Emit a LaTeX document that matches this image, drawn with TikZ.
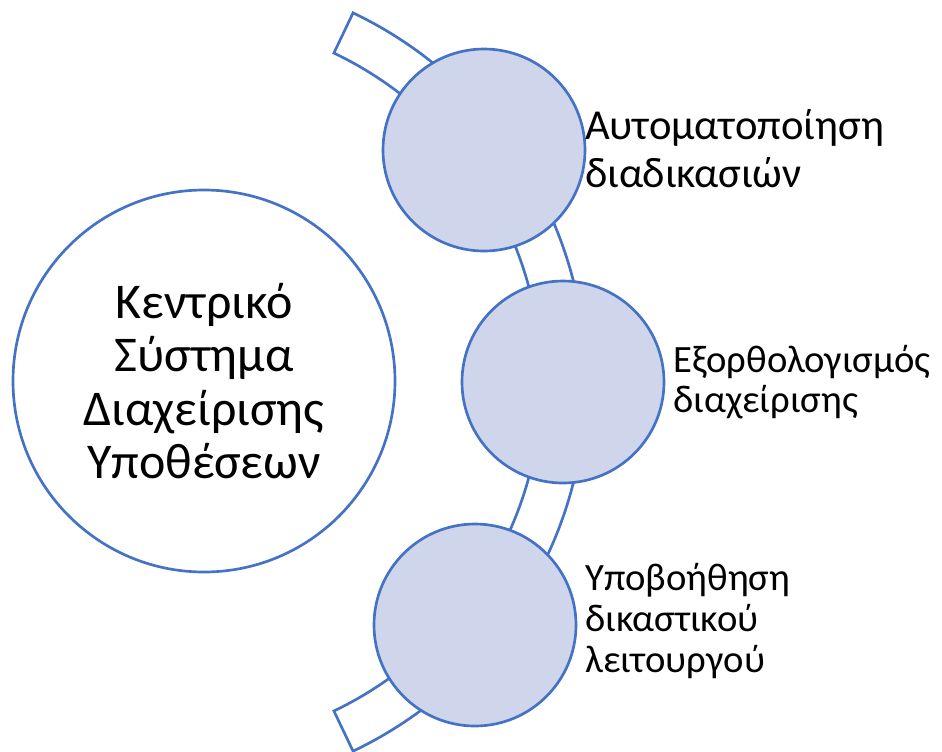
\documentclass[tikz,border=0pt]{standalone}
\usepackage{fontspec}
\setmainfont{Carlito}
\usetikzlibrary{calc,positioning}
\definecolor{rimblue}{HTML}{4472C4}
\definecolor{discfill}{HTML}{CFD5EA}
\begin{document}
\begin{tikzpicture}
[x=0.75pt,y=-0.75pt,line width=2pt,%
  every node/.style={inner sep=0pt,outer sep=0pt},%
  hub/.style={shape=circle,draw=rimblue,fill=white,minimum size=286.5pt,
    align=center,font=\fontsize{37.5}{40}\selectfont},%
  disc/.style={shape=circle,draw=rimblue,fill=discfill,minimum size=151.5pt},%
  tag/.style={align=left,anchor=west}]
\useasboundingbox (0,0) rectangle (942,751);
\coordinate (axis) at (177,382);
\draw[rimblue,fill=white]
  ($(axis)+(-64.5:364.5)$) arc[start angle=-64.5,end angle=64.5,radius=364.5]
  -- ($(axis)+(64.5:409)$) arc[start angle=64.5,end angle=-64.5,radius=409]
  -- cycle;
\node[hub] (hub) at (204,381) {Κεντρικό\\Σύστημα\\Διαχείρισης\\Υποθέσεων};
\node[disc] (disc1) at (484,150) {};
\node[disc] (disc2) at (563,382) {};
\node[disc] (disc3) at (475,625) {};
\node[tag,font=\fontsize{32}{36}\selectfont,right=0pt of disc1,yshift=1pt]
  (tag1) {Αυτοματοποίηση\\διαδικασιών};
\node[tag,font=\fontsize{29}{30}\selectfont,right=7pt of disc2]
  (tag2) {Εξορθολογισμός\\διαχείρισης};
\node[tag,font=\fontsize{29}{31}\selectfont,right=7pt of disc3,yshift=3pt]
  (tag3) {Υποβοήθηση\\δικαστικού\\λειτουργού};
\end{tikzpicture}
\end{document}
